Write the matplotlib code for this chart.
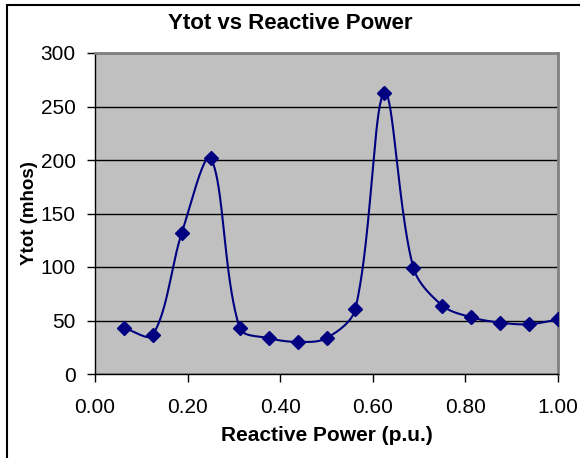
import numpy as np
import matplotlib.pyplot as plt
from matplotlib.patches import Rectangle

plt.rcParams['font.family'] = ['Liberation Sans', 'DejaVu Sans']

# data
reactive_power = [0.0625, 0.125, 0.1875, 0.25, 0.3125, 0.375, 0.4375, 0.5,
                  0.5625, 0.625, 0.6875, 0.75, 0.8125, 0.875, 0.9375, 1.0]
ytot = [43, 36.5, 132, 201.5, 43, 33.5, 30, 33.5,
        61, 263, 99.5, 64, 53, 48, 46.5, 51]
x_ticks = [0.0, 0.2, 0.4, 0.6, 0.8, 1.0]
y_ticks = [0, 50, 100, 150, 200, 250, 300]


def smooth(xs, ys, sx=463.0, sy=321 / 300, n=40):
    """Excel-like smoothed line: Bezier segments, tangents weighted by
    on-screen segment length (sx, sy = pixels per data unit)."""
    p = np.column_stack([np.asarray(xs) * sx, np.asarray(ys) * sy])
    k = len(p)
    c_out = np.zeros_like(p)
    c_in = np.zeros_like(p)
    for i in range(k):
        a = p[max(i - 1, 0)]
        b = p[min(i + 1, k - 1)]
        d_prev = np.hypot(*(p[i] - a))
        d_next = np.hypot(*(b - p[i]))
        tot = d_prev + d_next
        if tot == 0:
            continue
        c_out[i] = p[i] + (b - a) * d_next / tot / 3
        c_in[i] = p[i] - (b - a) * d_prev / tot / 3
    t = np.linspace(0, 1, n)[:, None]
    out = []
    for i in range(k - 1):
        p1, c1, c2, p2 = p[i], c_out[i], c_in[i + 1], p[i + 1]
        seg = ((1 - t) ** 3) * p1 + 3 * ((1 - t) ** 2) * t * c1 \
            + 3 * (1 - t) * t ** 2 * c2 + t ** 3 * p2
        out.append(seg if i == 0 else seg[1:])
    out = np.vstack(out)
    return out[:, 0] / sx, out[:, 1] / sy


fig = plt.figure(figsize=(5.8, 4.58), dpi=100)
ax = fig.add_axes([95 / 580, 1 - 374 / 458, 463 / 580, 321 / 458])
ax.set_facecolor('#c0c0c0')

sx, sy = smooth(reactive_power, ytot)
ax.plot(sx, sy, color='#000080', linewidth=1.5, zorder=3)
ax.plot(reactive_power, ytot, linestyle='none', marker='D', markersize=7.5,
        color='#000080', zorder=4)

ax.set_xlim(0, 1)
ax.set_ylim(0, 300)
ax.set_xticks(x_ticks)
ax.set_xticklabels([f'{v:.2f}' for v in x_ticks])
ax.set_yticks(y_ticks)
ax.yaxis.grid(True, color='black', linewidth=1)
ax.set_axisbelow(True)

for side in ['top', 'right']:
    ax.spines[side].set_color('#808080')
    ax.spines[side].set_linewidth(2)
for side in ['left', 'bottom']:
    ax.spines[side].set_color('black')
    ax.spines[side].set_linewidth(1)

ax.tick_params(axis='both', direction='out', length=6, width=1,
               labelsize=15, color='black')
ax.tick_params(axis='x', pad=11)
ax.tick_params(axis='y', pad=8)

ax.set_xlabel('Reactive Power (p.u.)', fontsize=15, fontweight='bold', labelpad=7)
ax.set_ylabel('Ytot (mhos)', fontsize=13.5, fontweight='bold', labelpad=2)
fig.suptitle('Ytot vs Reactive Power', fontsize=16, fontweight='bold', y=0.972)

# chart frame
fig.patches.append(Rectangle((7 / 580, -0.1), 1.2, 1.1 - 5 / 458,
                             transform=fig.transFigure, fill=False,
                             edgecolor='black', linewidth=1.5))

plt.savefig('out.png', dpi=100)
